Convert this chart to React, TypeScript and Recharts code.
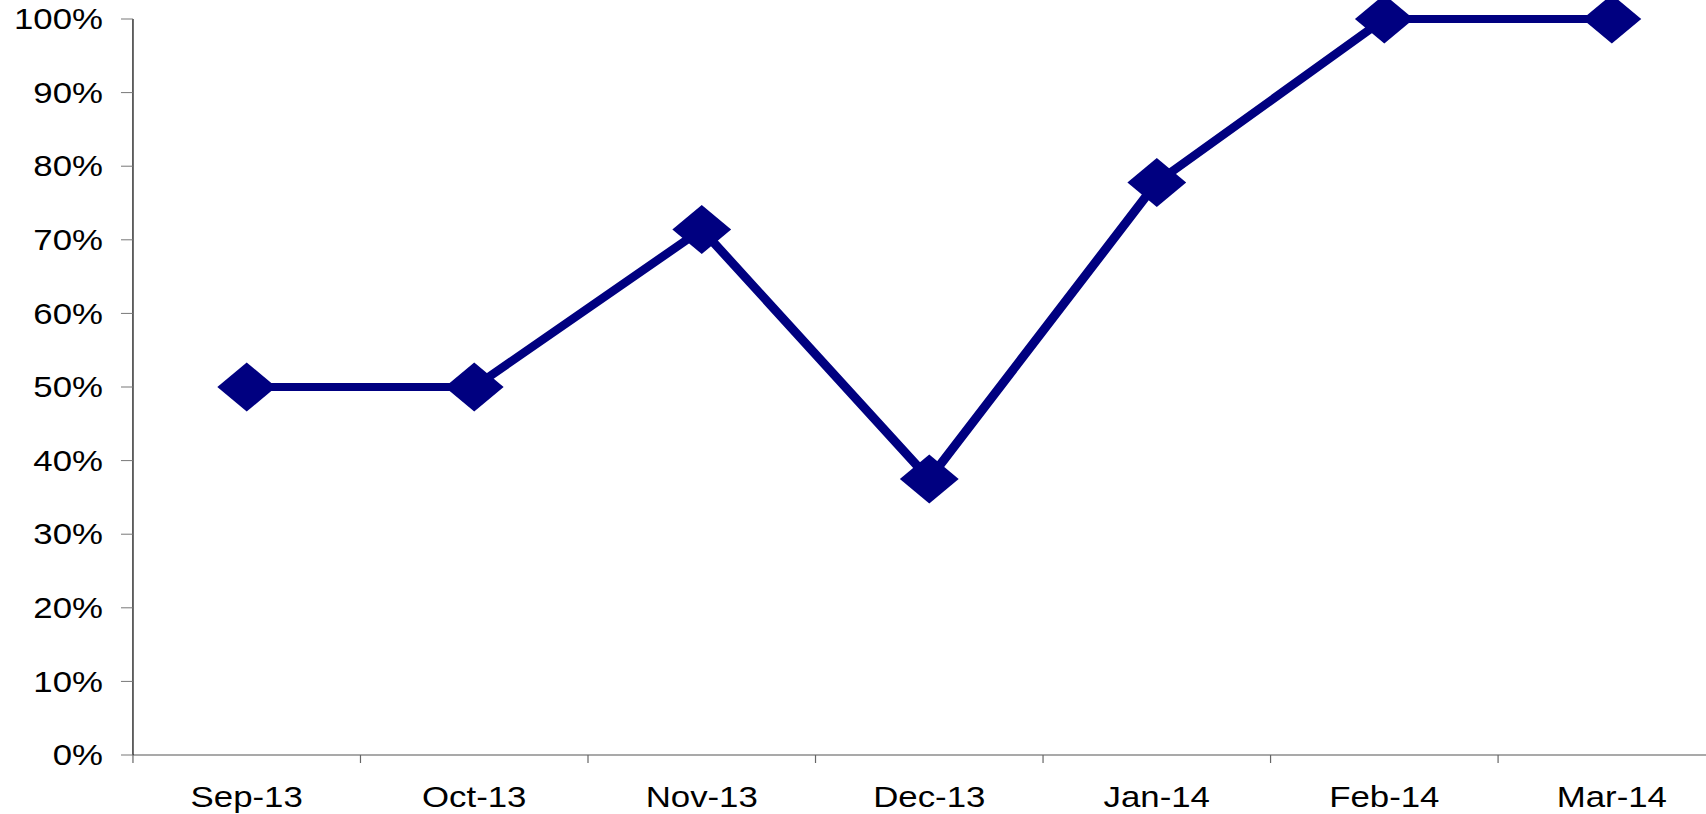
import React from 'react';
import { LineChart, Line, XAxis, YAxis } from 'recharts';

const months = ['Sep-13', 'Oct-13', 'Nov-13', 'Dec-13', 'Jan-14', 'Feb-14', 'Mar-14'];
const values = [50, 50, 71.4, 37.5, 77.8, 100, 100];
const yTicks = [0, 10, 20, 30, 40, 50, 60, 70, 80, 90, 100];

// points sit in the middle of each month band, ticks on band edges
const data = months.map((m, i) => ({ pos: i + 0.5, month: m, value: values[i] }));
const xTicks: number[] = [];
for (let i = 0; i <= months.length * 2; i++) xTicks.push(i / 2);

const FONT = '"Liberation Sans", Arial, sans-serif';
const STRETCH = 1.2;

const Diamond = (props: any) => {
    const { cx, cy } = props;
    if (cx == null || cy == null) return null;
    const r = 24.5;
    return (
        <polygon
            points={`${cx},${cy - r} ${cx + r},${cy} ${cx},${cy + r} ${cx - r},${cy}`}
            fill="#000080"
        />
    );
};

const MonthTick = (props: any) => {
    const { x, y, payload } = props;
    const v = payload.value as number;
    if (Number.isInteger(v)) {
        return <line x1={x} x2={x} y1={y} y2={y + 8} stroke="#666" strokeWidth={1} />;
    }
    const label = months[Math.floor(v)];
    return (
        <text x={x} y={y + 52} textAnchor="middle" fill="#000" fontSize={29} fontFamily={FONT}>
            {label}
        </text>
    );
};

export default function App() {
    return (
        <div
            style={{
                position: 'fixed',
                left: 0,
                top: 0,
                width: 1706,
                height: 814,
                overflow: 'hidden',
                background: '#fff',
            }}
        >
            <div style={{ transform: `scale(${STRETCH}, 1)`, transformOrigin: '0 0', width: 1453 }}>
                <LineChart
                    width={1453}
                    height={814}
                    data={data}
                    margin={{ top: 19, right: 15, bottom: 0, left: 0 }}
                >
                    <XAxis
                        type="number"
                        dataKey="pos"
                        domain={[0, months.length]}
                        ticks={xTicks}
                        interval={0}
                        height={59}
                        tickSize={0}
                        tickMargin={0}
                        tickLine={false}
                        axisLine={{ stroke: '#555', strokeWidth: 1 }}
                        tick={<MonthTick />}
                    />
                    <YAxis
                        domain={[0, 100]}
                        ticks={yTicks}
                        interval={0}
                        width={110.8}
                        tickSize={10}
                        tickMargin={15}
                        tickLine={{ stroke: '#777' }}
                        axisLine={{ stroke: '#000', strokeWidth: 1 }}
                        tickFormatter={(v: number) => `${v}%`}
                        tick={{ fill: '#000', fontSize: 29, fontFamily: FONT }}
                    />
                    <Line
                        type="linear"
                        dataKey="value"
                        stroke="#000080"
                        strokeWidth={8}
                        dot={<Diamond />}
                        activeDot={false}
                        isAnimationActive={false}
                    />
                </LineChart>
            </div>
        </div>
    );
}
